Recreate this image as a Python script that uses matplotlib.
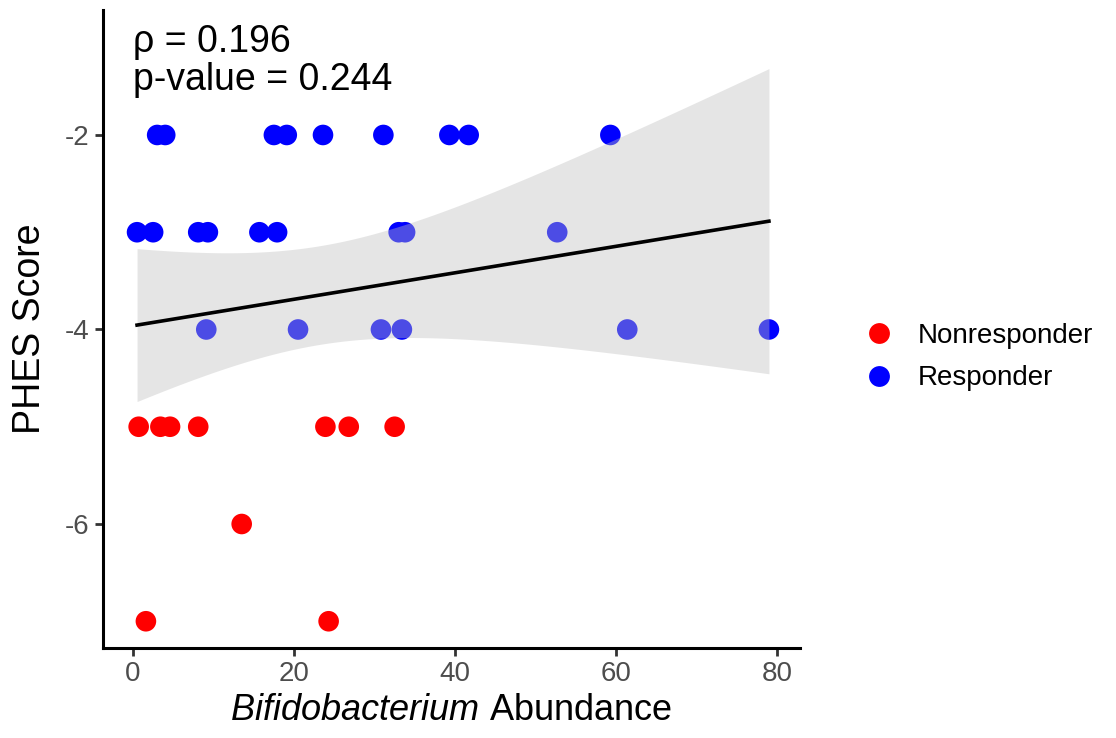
import numpy as np
import matplotlib as mpl
mpl.use("Agg")
import matplotlib.pyplot as plt
from matplotlib.lines import Line2D

plt.rcParams['font.family'] = ['Liberation Sans', 'DejaVu Sans']
plt.rcParams['axes.unicode_minus'] = False
plt.rcParams['mathtext.fontset'] = 'custom'
plt.rcParams['mathtext.rm'] = 'Liberation Sans'
plt.rcParams['mathtext.it'] = 'Liberation Sans:italic'

# Data
resp_x = [3.0, 4.0, 17.5, 19.1, 23.6, 31.1, 39.3, 41.7, 59.3,
          0.5, 2.5, 8.1, 9.3, 15.7, 17.9, 33.0, 33.8, 52.7,
          9.1, 20.5, 30.8, 33.4, 61.4, 79.0]
resp_y = [-2, -2, -2, -2, -2, -2, -2, -2, -2,
          -3, -3, -3, -3, -3, -3, -3, -3, -3,
          -4, -4, -4, -4, -4, -4]
nonr_x = [0.7, 3.4, 4.6, 8.1, 23.9, 26.8, 32.5, 13.5, 1.6, 24.3]
nonr_y = [-5, -5, -5, -5, -5, -5, -5, -6, -7, -7]

rho_txt = "\u03c1 = 0.196"
pval_txt = "p-value = 0.244"
xticks = [0, 20, 40, 60, 80]
yticks = [-2, -4, -6]

# %% Linear fit with 95% confidence band (like geom_smooth(method='lm'))
x_all = np.array(resp_x + nonr_x, dtype=float)
y_all = np.array(resp_y + nonr_y, dtype=float)
n = len(x_all)
b1, b0 = np.polyfit(x_all, y_all, 1)
resid = y_all - (b0 + b1 * x_all)
s = np.sqrt(np.sum(resid**2) / (n - 2))
t_crit = 2.0369  # t(0.975, df=32)
xg = np.linspace(x_all.min(), x_all.max(), 200)
yg = b0 + b1 * xg
se = s * np.sqrt(1.0 / n + (xg - x_all.mean())**2 / np.sum((x_all - x_all.mean())**2))

# %% Figure
fig = plt.figure(figsize=(11.16, 7.38), dpi=100)
ax = fig.add_axes([103/1116, 90/738, (800-103)/1116, (648-10)/738])

ax.scatter(nonr_x, nonr_y, s=220, color='#FF0000', edgecolors='none', zorder=2)
ax.scatter(resp_x, resp_y, s=220, color='#0000FF', edgecolors='none', zorder=2)
ax.fill_between(xg, yg - t_crit*se, yg + t_crit*se, color=(0.75, 0.75, 0.75),
                alpha=0.4, linewidth=0, zorder=3)
ax.plot(xg, yg, color='black', linewidth=2.6, zorder=4)

ax.text(0.0, -1.147, rho_txt, fontsize=27, ha='left', va='baseline')
ax.text(0.0, -1.537, pval_txt, fontsize=27, ha='left', va='baseline')

ax.set_xlim(-3.73, 82.86)
ax.set_ylim(-7.275, -0.715)
ax.set_xticks(xticks)
ax.set_yticks(yticks)

for side in ['top', 'right']:
    ax.spines[side].set_visible(False)
for side in ['left', 'bottom']:
    ax.spines[side].set_linewidth(2.2)
ax.tick_params(axis='both', width=2.0, length=6, labelsize=20, colors='#4D4D4D')
ax.tick_params(axis='both', color='#333333')

ax.set_xlabel(r'$\it{Bifidobacterium}$ Abundance', fontsize=26, labelpad=4)
ax.set_ylabel('PHES Score', fontsize=27, labelpad=12)

# Legend
handles = [Line2D([], [], marker='o', linestyle='none', markersize=15, color='#FF0000', markeredgewidth=0),
           Line2D([], [], marker='o', linestyle='none', markersize=15, color='#0000FF', markeredgewidth=0)]
fig.legend(handles, ['Nonresponder', 'Responder'], loc='center left',
           bbox_to_anchor=(826/1116, 1 - 357/738), frameon=False, fontsize=20,
           handletextpad=0.4, labelspacing=0.6)

fig.savefig('out.png', dpi=100)
